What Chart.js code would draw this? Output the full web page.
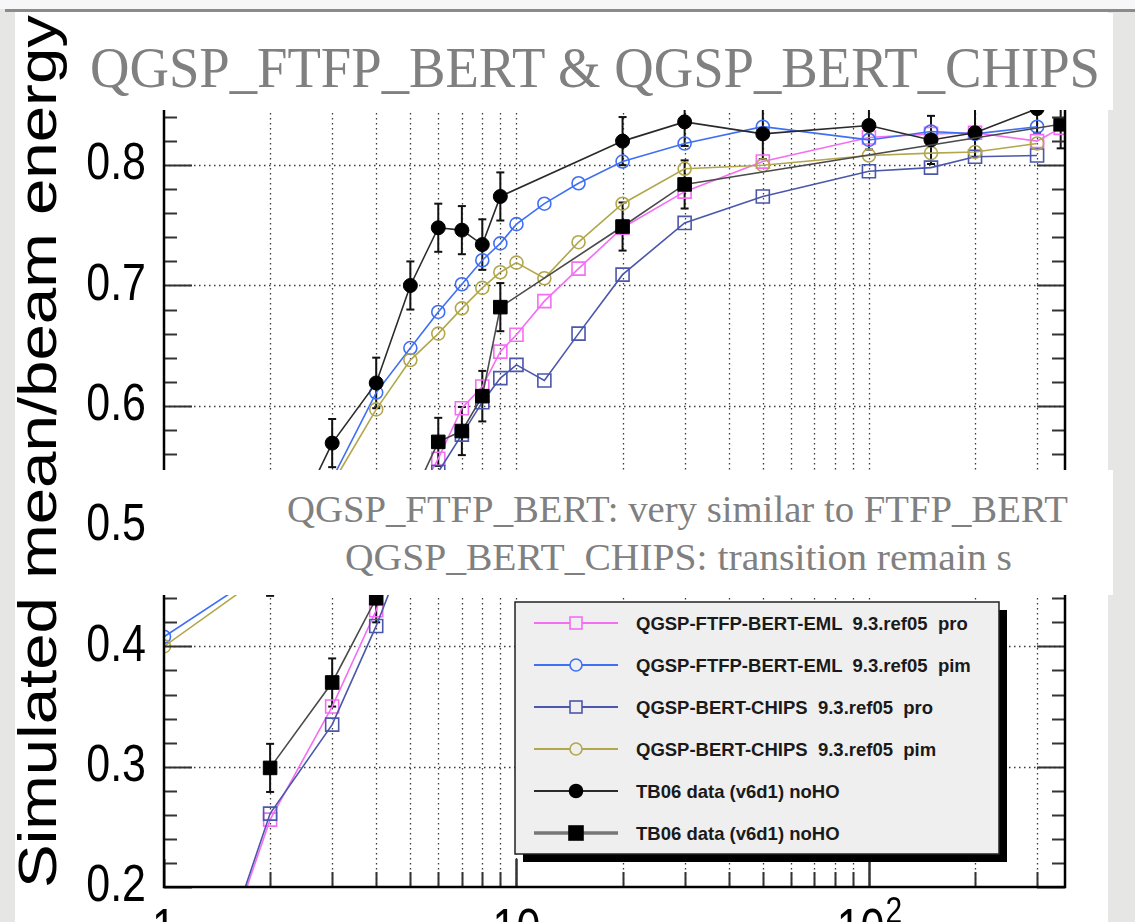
<!DOCTYPE html>
<html lang="en">
<head>
<meta charset="UTF-8">
<meta name="viewport" content="width=device-width, initial-scale=1.0">
<title>QGSP_FTFP_BERT &amp; QGSP_BERT_CHIPS</title>
<script src="https://cdn.jsdelivr.net/npm/chart.js"></script>
<style>
    body { margin: 0; width: 1135px; height: 922px; overflow: hidden; position: relative; background: #e6e6e4; }
    #strip { position: absolute; left: 0; top: 0; width: 1135px; height: 9px; background: #f7f7f7; }
    #rule { position: absolute; left: 5px; top: 9px; width: 1130px; height: 3px; background: #8b8b8b; }
    #panel { position: absolute; left: 15px; top: 12px; width: 1093px; height: 910px; background: #fff; }
    #plot, #overlay { position: absolute; left: 0; top: 0; }
    .sans { font-family: "Liberation Sans", Arial, sans-serif; }
    .serif { font-family: "Liberation Serif", "Times New Roman", serif; fill: #808080; }
    .leg { font-family: "Liberation Sans", Arial, sans-serif; font-size: 18.5px; font-weight: bold; fill: #1a1a1a; white-space: pre; }
</style>
</head>
<body>
<div id="strip"></div>
<div id="rule"></div>
<div id="panel"></div>
<canvas id="plot" width="1135" height="922"></canvas>
<svg id="overlay" width="1135" height="922" xmlns="http://www.w3.org/2000/svg">
    <text class="sans" transform="translate(56,888) rotate(-90)" font-size="54" textLength="873" lengthAdjust="spacingAndGlyphs">Simulated mean/beam energy</text>
    <rect x="75" y="13" width="1038" height="97" fill="#fff"/>
    <text class="serif" x="90" y="87" font-size="57" textLength="1010" lengthAdjust="spacingAndGlyphs">QGSP_FTFP_BERT &amp; QGSP_BERT_CHIPS</text>
    <rect x="150" y="470" width="963" height="125" fill="#fff"/>
    <text class="serif" x="287" y="522" font-size="37" textLength="781" lengthAdjust="spacingAndGlyphs">QGSP_FTFP_BERT: very similar to FTFP_BERT</text>
    <text class="serif" x="345" y="570" font-size="37" textLength="667" lengthAdjust="spacingAndGlyphs">QGSP_BERT_CHIPS: transition remain s</text>
    <g id="legend"></g>
</svg>

<script>
    // beam energies (GeV) and mean response, read per series
    const modelE   = [1, 2, 3, 4, 5, 6, 7, 8, 9, 10, 12, 15, 20, 30, 50, 100, 150, 200, 300];
    const ftfpProE = [1, 2, 3, 4, 5, 6, 7, 8, 9, 10, 12, 15, 20, 30, 50, 100, 150, 200, 300, 350];
    const ftfpPro  = [0.000, 0.256, 0.350, 0.430, 0.513, 0.556, 0.598, 0.616, 0.645, 0.659, 0.687, 0.714, 0.748, 0.778, 0.803, 0.823, 0.826, 0.827, 0.820, 0.831];
    const ftfpPim  = [0.408, 0.466, 0.539, 0.611, 0.648, 0.678, 0.701, 0.721, 0.735, 0.751, 0.768, 0.785, 0.803, 0.818, 0.832, 0.821, 0.828, 0.826, 0.832];
    const chipsPro = [0.000, 0.261, 0.335, 0.417, 0.490, 0.545, 0.576, 0.603, 0.623, 0.634, 0.621, 0.660, 0.709, 0.752, 0.774, 0.795, 0.798, 0.807, 0.808];
    const chipsPim = [0.400, 0.463, 0.535, 0.597, 0.638, 0.660, 0.681, 0.698, 0.711, 0.719, 0.706, 0.736, 0.768, 0.797, 0.800, 0.808, 0.810, 0.811, 0.818];

    const tbCircE   = [2, 3, 4, 5, 6, 7, 8, 9, 20, 30, 50, 100, 150, 200, 300];
    const tbCirc    = [0.462, 0.569, 0.619, 0.700, 0.748, 0.746, 0.734, 0.774, 0.820, 0.836, 0.826, 0.833, 0.821, 0.827, 0.847];
    const tbCircErr = [0.02, 0.02, 0.021, 0.02, 0.02, 0.02, 0.021, 0.02, 0.02, 0.02, 0.021, 0.02, 0.02, 0.02, 0.02];
    const tbSqE     = [2, 3, 4, 5, 6, 7, 8, 9, 20, 30, 350];
    const tbSq      = [0.299, 0.370, 0.440, 0.520, 0.570, 0.579, 0.608, 0.682, 0.749, 0.784, 0.834];
    const tbSqErr   = [0.02, 0.02, 0.02, 0.02, 0.02, 0.02, 0.021, 0.02, 0.02, 0.02, 0.02];

    const labels = [
        'QGSP-FTFP-BERT-EML  9.3.ref05  pro',
        'QGSP-FTFP-BERT-EML  9.3.ref05  pim',
        'QGSP-BERT-CHIPS  9.3.ref05  pro',
        'QGSP-BERT-CHIPS  9.3.ref05  pim',
        'TB06 data (v6d1) noHO',
        'TB06 data (v6d1) noHO'
    ];

    // axis decorations
    const xGrid = [2, 3, 4, 5, 6, 7, 8, 9, 10, 20, 30, 40, 50, 60, 70, 80, 90, 100, 200, 300];
    const xDecades = [1, 10, 100];
    const xDecadeLabels = ['1', '10', '10^2'];
    const yTicks = [0.2, 0.3, 0.4, 0.5, 0.6, 0.7, 0.8];
    const yTickLabels = ['0.2', '0.3', '0.4', '0.5', '0.6', '0.7', '0.8'];

    function pts(xs, ys) {
        return xs.map((x, i) => ({ x: x, y: ys[i] }));
    }

    function series(label, xs, ys, color, style, radius, filled, order) {
        return {
            label: label,
            data: pts(xs, ys),
            borderColor: color,
            borderWidth: 1.6,
            pointStyle: style,
            pointRadius: radius,
            pointBorderWidth: filled ? 1 : 1.6,
            pointBorderColor: filled ? '#000' : color,
            pointBackgroundColor: filled ? '#000' : 'rgba(0,0,0,0)',
            fill: false,
            clip: 0,
            order: order
        };
    }

    const datasets = [
        series(labels[0], ftfpProE, ftfpPro, '#f46ef4', 'rect', 9.2, false, 5),
        series(labels[1], modelE, ftfpPim, '#3f6ff5', 'circle', 6.5, false, 4),
        series(labels[2], modelE, chipsPro, '#4a57ab', 'rect', 9.2, false, 3),
        series(labels[3], modelE, chipsPim, '#b2a74c', 'circle', 6.5, false, 2),
        series(labels[4], tbCircE, tbCirc, '#2a2a2a', 'circle', 7, true, 1),
        series(labels[5], tbSqE, tbSq, '#4a4a4a', 'rect', 9.6, true, 0)
    ];
    datasets[4].errors = tbCircErr;
    datasets[5].errors = tbSqErr;

    function seg(ctx, x1, y1, x2, y2) {
        ctx.beginPath();
        ctx.moveTo(x1, y1);
        ctx.lineTo(x2, y2);
        ctx.stroke();
    }

    // ROOT-like frame: dotted grid, error bars, inner ticks, big tick labels
    const frame = {
        id: 'frame',
        beforeDatasetsDraw(chart) {
            const { ctx, chartArea: a, scales: { x, y } } = chart;
            ctx.save();
            ctx.strokeStyle = '#3a3a3a';
            ctx.lineWidth = 1.3;
            ctx.setLineDash([1.5, 3.5]);
            xGrid.forEach(v => {
                const px = Math.round(x.getPixelForValue(v)) + 0.5;
                seg(ctx, px, a.top, px, a.bottom);
            });
            yTicks.slice(1).forEach(v => {
                const py = Math.round(y.getPixelForValue(v)) + 0.5;
                seg(ctx, a.left, py, a.right, py);
            });
            ctx.restore();

            ctx.save();
            ctx.beginPath();
            ctx.rect(a.left, a.top, a.width, a.height);
            ctx.clip();
            ctx.strokeStyle = '#111';
            ctx.lineWidth = 2;
            chart.data.datasets.forEach(ds => {
                if (!ds.errors) return;
                ds.data.forEach((p, j) => {
                    const px = x.getPixelForValue(p.x);
                    const top = y.getPixelForValue(p.y + ds.errors[j]);
                    const bot = y.getPixelForValue(p.y - ds.errors[j]);
                    seg(ctx, px, top, px, bot);
                    seg(ctx, px - 4, top, px + 4, top);
                    seg(ctx, px - 4, bot, px + 4, bot);
                });
            });
            ctx.restore();
        },
        afterDatasetsDraw(chart) {
            const { ctx, chartArea: a, scales: { x, y } } = chart;
            ctx.save();
            ctx.strokeStyle = '#333';
            ctx.lineWidth = 2;
            for (let k = 0; k <= 33; k++) {
                const v = 0.2 + k * 0.02;
                const py = Math.round(y.getPixelForValue(v)) + 0.5;
                const len = k % 5 === 0 ? 28 : 13;
                seg(ctx, a.left, py, a.left + len, py);
                seg(ctx, a.right, py, a.right - len, py);
            }
            xGrid.concat(xDecades).forEach(v => {
                const px = Math.round(x.getPixelForValue(v)) + 0.5;
                const len = xDecades.includes(v) ? 28 : 15;
                seg(ctx, px, a.bottom, px, a.bottom - len);
            });
            ctx.strokeStyle = '#000';
            ctx.lineWidth = 2.5;
            ctx.strokeRect(a.left, a.top, a.width, a.height);

            ctx.fillStyle = '#000';
            ctx.font = '43px "Liberation Sans", Arial, sans-serif';
            ctx.textAlign = 'right';
            ctx.textBaseline = 'middle';
            yTicks.forEach((v, i) => {
                ctx.save();
                ctx.translate(146, y.getPixelForValue(v));
                ctx.scale(1, 1.2);
                ctx.fillText(yTickLabels[i], 0, 0);
                ctx.restore();
            });

            ctx.textBaseline = 'alphabetic';
            ctx.textAlign = 'left';
            xDecades.forEach((v, i) => {
                const parts = xDecadeLabels[i].split('^');
                ctx.font = '43px "Liberation Sans", Arial, sans-serif';
                const wBase = ctx.measureText(parts[0]).width;
                let wExp = 0;
                if (parts[1]) {
                    ctx.font = '30px "Liberation Sans", Arial, sans-serif';
                    wExp = ctx.measureText(parts[1]).width;
                }
                const px = x.getPixelForValue(v) - (wBase + wExp) / 2;
                ctx.save();
                ctx.translate(px, 945);
                ctx.scale(1, 1.2);
                ctx.font = '43px "Liberation Sans", Arial, sans-serif';
                ctx.fillText(parts[0], 0, 0);
                if (parts[1]) {
                    ctx.font = '30px "Liberation Sans", Arial, sans-serif';
                    ctx.fillText(parts[1], wBase + 1, -18);
                }
                ctx.restore();
            });
            ctx.restore();
        }
    };

    new Chart(document.getElementById('plot'), {
        type: 'line',
        data: { datasets: datasets },
        options: {
            responsive: false,
            animation: false,
            events: [],
            layout: { padding: { left: 164, right: 70, top: 93, bottom: 35 } },
            scales: {
                x: { type: 'logarithmic', min: 1, max: 360, display: false },
                y: { type: 'linear', min: 0.2, max: 0.86, display: false }
            },
            plugins: { legend: { display: false }, tooltip: { enabled: false } },
            elements: { line: { tension: 0 } }
        },
        plugins: [frame]
    });

    // legend box with shadow, one row per dataset
    const NS = 'http://www.w3.org/2000/svg';
    const legend = document.getElementById('legend');
    function el(tag, attrs, parent) {
        const e = document.createElementNS(NS, tag);
        Object.keys(attrs).forEach(k => e.setAttribute(k, attrs[k]));
        (parent || legend).appendChild(e);
        return e;
    }
    el('rect', { x: 523, y: 610, width: 484, height: 252, fill: '#000' });
    el('rect', { x: 515, y: 602, width: 484, height: 252, fill: '#efefef', stroke: '#222', 'stroke-width': 1.5 });
    datasets.forEach((ds, i) => {
        const cy = 623 + i * 42;
        const filled = ds.pointBackgroundColor === '#000';
        const lineColor = i === 5 ? '#777' : ds.borderColor;
        el('line', { x1: 534, y1: cy, x2: 618, y2: cy, stroke: lineColor, 'stroke-width': i === 5 ? 3.5 : 2 });
        if (ds.pointStyle === 'rect') {
            const s = filled ? 14 : 12;
            el('rect', { x: 576 - s / 2, y: cy - s / 2, width: s, height: s,
                fill: filled ? '#000' : '#efefef', stroke: filled ? '#000' : ds.borderColor, 'stroke-width': 1.6 });
        } else {
            el('circle', { cx: 576, cy: cy, r: filled ? 6.5 : 6,
                fill: filled ? '#000' : '#efefef', stroke: filled ? '#000' : ds.borderColor, 'stroke-width': 1.6 });
        }
        const t = el('text', { x: 636, y: cy + 7, class: 'leg' });
        t.textContent = ds.label;
    });
</script>
</body>
</html>
